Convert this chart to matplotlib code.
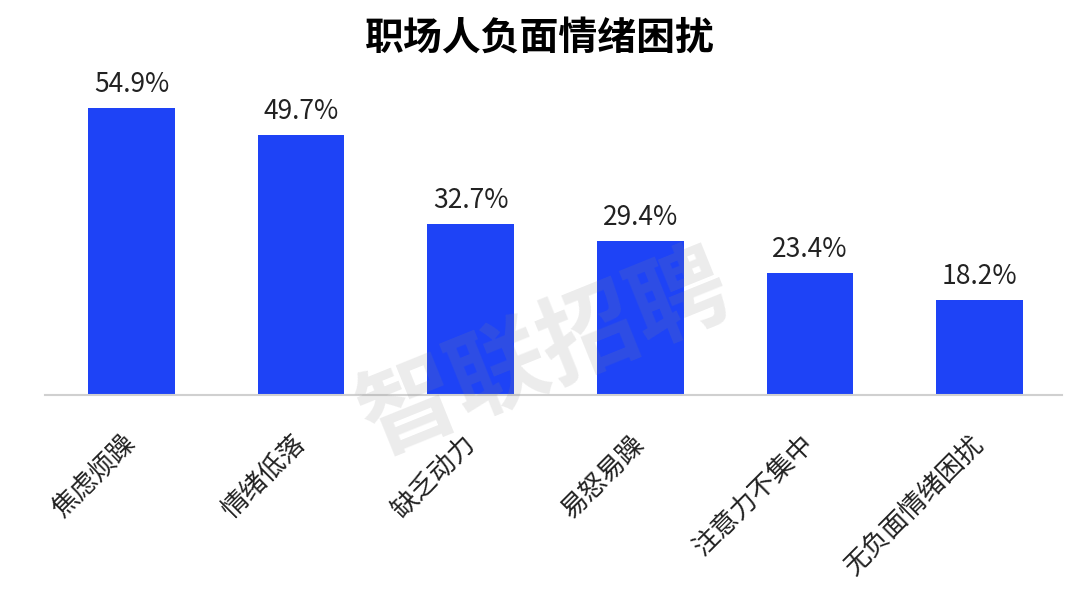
import matplotlib
matplotlib.use("Agg")
import matplotlib.pyplot as plt

plt.rcParams['font.family'] = ['Noto Sans CJK SC', 'DejaVu Sans']

# chart data
categories = ['焦虑烦躁', '情绪低落', '缺乏动力', '易怒易躁', '注意力不集中', '无负面情绪困扰']
values = [54.9, 49.7, 32.7, 29.4, 23.4, 18.2]
title = '职场人负面情绪困扰'
watermark = '智联招聘'

bar_color = '#1e43f6'

fig = plt.figure(figsize=(10.8, 5.91), dpi=100)
ax = fig.add_axes([45 / 1080, 1 - 395 / 591, 1017 / 1080, 325 / 591])

x = list(range(len(categories)))
bars = ax.bar(x, values, width=0.51, color=bar_color, zorder=2)

for xi, v in zip(x, values):
    ax.annotate(f'{v:.1f}%', (xi, v), xytext=(0, 7), textcoords='offset points',
                ha='center', va='bottom', fontsize=19, color='#222222')

ax.set_xlim(-0.51, 5.486)
ax.set_ylim(0, 62.1)
ax.set_xticks(x)
ax.set_xticklabels(categories, rotation=45, ha='right', va='center',
                   rotation_mode='anchor', fontsize=19, color='#222222')
ax.tick_params(axis='x', length=0, pad=32)
ax.set_yticks([])

for side in ['top', 'right', 'left']:
    ax.spines[side].set_visible(False)
ax.spines['bottom'].set_color('#d0d0d0')
ax.spines['bottom'].set_linewidth(1.5)

fig.text(0.5, 1 - 38 / 591, title, ha='center', va='center',
         fontsize=28, fontweight='bold', color='black')

# watermark
fig.text(545 / 1080, 1 - 355 / 591, watermark, ha='center', va='center',
         fontsize=70, fontweight='bold', color='#888888', alpha=0.16,
         rotation=22, zorder=5)

fig.savefig('out.png', dpi=100)
